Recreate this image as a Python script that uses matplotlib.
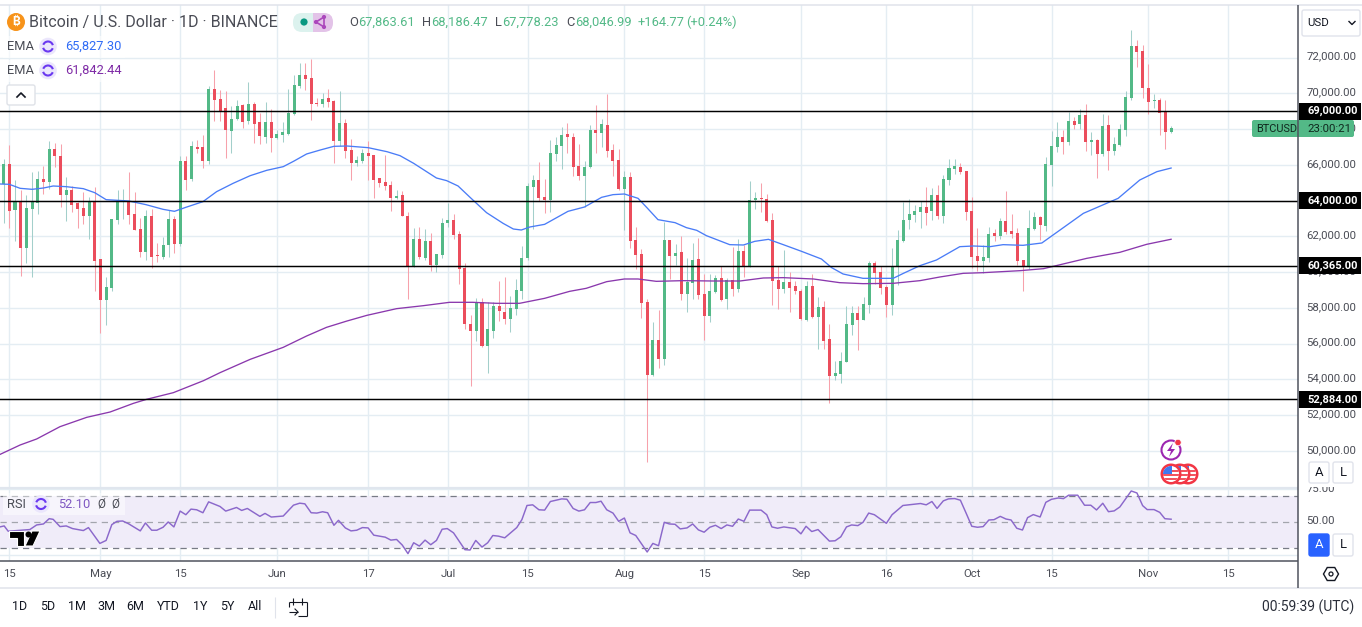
# Bitcoin daily candles with two EMAs, key levels and an RSI pane
import numpy as np
import matplotlib
matplotlib.use("Agg")
import matplotlib.pyplot as plt
from matplotlib.patches import Rectangle, Circle, FancyBboxPatch, Arc, Polygon, RegularPolygon
from matplotlib.transforms import ScaledTranslation

plt.rcParams['font.family'] = ['Roboto', 'DejaVu Sans']

# candles, first one is Apr 14, one per day
opens = [
    64934, 66053, 63479, 63946, 61353, 63535, 63890, 65214, 65046, 66892,
    66501, 64319, 64598, 63890, 63573, 63144, 63927, 60738, 58444, 59115,
    62920, 63983, 63983, 63256, 62416, 61130, 63144, 60962, 60850, 61521,
    62976, 61577, 66221, 65214, 67004, 67004, 66221, 70249, 69690, 69186,
    67900, 68571, 69354, 68459, 69410, 68403, 67564, 68403, 67508, 67676,
    67732, 68851, 70417, 71033, 70865, 69466, 69410, 69746, 69578, 67340,
    68347, 66836, 66109, 66221, 66669, 66557, 65270, 65046, 64878, 64151,
    64319, 63144, 60346, 61857, 60794, 61745, 60402, 60962, 62752, 62920,
    62137, 60234, 57101, 56710, 58332, 55870, 56710, 58108, 57773, 57381,
    57940, 58948, 60794, 64766, 65158, 64207, 64020, 66613, 67060, 67732,
    67564, 65941, 65382, 65885, 67955, 67788, 68235, 66836, 66277, 64654,
    65326, 61801, 61018, 58332, 54248, 56206, 55143, 61801, 60906, 61130,
    58780, 59395, 60738, 58780, 57549, 58892, 59675, 58500, 59563, 59059,
    61186, 60365, 64020, 64151, 64095, 62920, 59563, 59059, 59451, 59227,
    58948, 57325, 59227, 57493, 58052, 56262, 54192, 54304, 54975, 57045,
    57717, 57325, 58164, 60514, 60011, 59171, 58164, 60346, 61745, 62920,
    63200, 63368, 63647, 63424, 64319, 63144, 65158, 65773, 65885, 65662,
    63424, 60906, 60626, 60794, 62193, 62025, 62864, 62305, 62193, 60682,
    60290, 62416, 63088, 62584, 65997, 67004, 67564, 67284, 68459, 68291,
    68795, 67284, 67396, 66613, 68235, 66781, 67116, 67955, 69746, 72655,
    72376, 70305, 69578, 69634, 68963, 67863.61,
]
highs = [
    66314, 67116, 65158, 64598, 64319, 65606, 65662, 65941, 67340, 67247,
    67172, 65326, 64822, 63927, 64505, 64225, 64766, 60738, 59731, 62976,
    64598, 64654, 65606, 64487, 63032, 63479, 63535, 61633, 61969, 63479,
    63144, 66501, 66501, 67340, 67396, 67676, 70417, 71312, 70193, 70138,
    69298, 69634, 69410, 70641, 69522, 68888, 69522, 69130, 67955, 68403,
    70249, 71033, 71704, 71704, 71928, 69746, 70026, 70249, 69634, 70138,
    68571, 67452, 66501, 66892, 67340, 66557, 65270, 66557, 65102, 64598,
    64543, 63368, 62472, 62528, 62416, 62193, 61018, 63032, 63871, 63256,
    62305, 60514, 57605, 58556, 58556, 58332, 58332, 59507, 59731, 58668,
    59619, 61465, 64990, 65438, 66165, 65214, 67396, 67564, 68123, 68347,
    67788, 67172, 66221, 68235, 69354, 68571, 69970, 67172, 66892, 65662,
    65606, 62528, 61297, 58500, 57213, 57884, 62808, 61801, 61577, 62025,
    60794, 61633, 61913, 59899, 59899, 59843, 60346, 59675, 61409, 61857,
    61521, 65102, 64487, 64990, 64375, 63312, 60346, 61241, 60011, 59507,
    59059, 59507, 59899, 58612, 58388, 57101, 55031, 55535, 58108, 58108,
    58108, 58612, 60626, 60626, 60346, 59283, 61353, 62360, 63927, 64095,
    63759, 63983, 64766, 64710, 64878, 65438, 66333, 66333, 66109, 65662,
    64207, 62472, 61521, 62528, 62416, 63032, 64543, 63256, 62472, 60682,
    63479, 63368, 63144, 66445, 67900, 68403, 67955, 68963, 68683, 69130,
    69410, 67844, 67452, 68851, 68795, 67564, 68291, 70138, 73550, 72991,
    72711, 71648, 69970, 69746, 69634, 68186.47,
]
lows = [
    62733, 62454, 61764, 59787, 60495, 59749, 63274, 64375, 64636, 65904,
    63666, 62864, 63368, 62472, 62696, 61857, 58948, 56616, 57045, 58948,
    62696, 62976, 62696, 62360, 60850, 60682, 60234, 60570, 60738, 60850,
    61074, 61465, 64598, 65102, 66669, 65829, 66053, 68459, 68459, 66389,
    66669, 68500, 68067, 68291, 67228, 67172, 67228, 66725, 67471, 67284,
    67676, 68795, 70305, 70193, 68515, 69298, 69242, 69242, 66109, 67060,
    66389, 65158, 65941, 66109, 65158, 64151, 64766, 64598, 63424, 64095,
    63144, 58500, 60290, 60738, 60682, 60067, 60011, 60775, 62528, 61876,
    59339, 56821, 53632, 56150, 55814, 54360, 56318, 57269, 57101, 56654,
    57605, 58500, 60682, 62416, 63983, 63312, 63368, 66221, 65773, 66669,
    65382, 65158, 63647, 65829, 66669, 67004, 66445, 65382, 64598, 62360,
    61353, 60178, 57437, 49380, 54200, 54639, 54807, 59619, 60402, 58444,
    57773, 58500, 58500, 56206, 57213, 58850, 58400, 57940, 58668, 58892,
    59731, 60300, 63535, 63368, 62800, 58164, 57940, 58836, 57773, 58780,
    57325, 57269, 57450, 55702, 55702, 52681, 53968, 53800, 54950, 56486,
    55646, 57300, 57717, 59339, 58780, 57511, 57605, 59283, 61700, 62416,
    62808, 62472, 62640, 62920, 62976, 62752, 64878, 65494, 65494, 62920,
    60234, 60067, 59955, 60570, 61745, 61857, 62137, 61913, 60402, 58948,
    60178, 62360, 61801, 62305, 64822, 66725, 66613, 67116, 68011, 68011,
    66781, 66557, 65270, 66501, 65717, 66557, 67060, 67620, 69634, 71480,
    69746, 68851, 69186, 67676, 66892, 67778.23,
]
closes = [
    66053, 63442, 63946, 61353, 63573, 63946, 65214, 65046, 66892, 66501,
    64319, 64598, 63759, 63535, 63144, 63927, 60626, 58444, 59171, 62976,
    63983, 64039, 63200, 62360, 61130, 63144, 60850, 60906, 61521, 62976,
    61577, 66221, 65158, 67060, 66892, 66221, 70249, 69634, 68963, 67955,
    68571, 69298, 68403, 69410, 68291, 67620, 68403, 67508, 67732, 67844,
    68907, 70473, 71033, 70809, 69410, 69410, 69690, 69522, 67340, 68347,
    66781, 66109, 66277, 66669, 66501, 65158, 64990, 64822, 64151, 64263,
    63144, 60346, 61857, 60850, 61745, 60402, 61018, 62752, 62920, 62081,
    60178, 57101, 56710, 58332, 55870, 56821, 58108, 57829, 57381, 57996,
    59003, 60794, 64822, 65158, 64151, 64020, 66669, 67116, 67676, 67564,
    65885, 65382, 65885, 67955, 67788, 68291, 66781, 66221, 64654, 65326,
    61745, 60962, 58276, 54248, 56206, 55143, 61801, 60906, 61074, 58780,
    59451, 60682, 58724, 57549, 58948, 59675, 58444, 59563, 59059, 61186,
    60365, 64020, 64151, 64095, 62864, 59507, 59059, 59451, 59115, 58948,
    57381, 59227, 57493, 58052, 56150, 54192, 54360, 55031, 57101, 57717,
    57325, 58220, 60514, 59955, 59115, 58164, 60346, 61801, 62920, 63256,
    63424, 63647, 63312, 64319, 63144, 65214, 65829, 65941, 65606, 63368,
    60850, 60626, 60850, 62137, 62025, 62864, 62249, 62137, 60626, 60290,
    62472, 63088, 62640, 66053, 67060, 67564, 67284, 68459, 68235, 68795,
    67284, 67396, 66613, 68179, 66781, 67172, 68011, 69802, 72655, 72320,
    70305, 69522, 69634, 68907, 67844, 68046.99,
]

# EMA readings, day numbers count from Apr 15
ema_fast_days = [-1.6, 0, 1.9, 4, 6, 7.7, 10, 13, 15, 17, 21, 24, 27, 29, 31, 34, 36.4, 39.3, 42.3, 45.2,
                 48.1, 49.9, 52.2, 54.6, 57, 59.3, 63, 66.3, 68.6, 71, 74, 75, 76.8, 78.8, 80.9, 83.8,
                 86.7, 88.5, 89.9, 91.4, 94, 98.1, 101, 104, 106, 108, 110.4, 111.9, 113.9, 116.9, 118.9,
                 120.7, 122.4, 126.5, 128.9, 130.9, 133.3, 135.9, 139.1, 142.6, 144.4, 146.4, 149.9,
                 151.7, 155.2, 157, 159.9, 162.8, 166.9, 169.3, 172.2, 174.5, 178, 181.3, 184.5, 188.6,
                 194.7, 198.5, 201.5, 204]
ema_fast = [64934, 64916, 64692, 64636, 64710, 64822, 64785, 64673, 64449, 64058, 63983, 63778, 63517, 63405,
            63629, 63946, 64505, 64972, 65400, 65699, 65904, 66202, 66613, 66836, 67042, 67060, 66967, 66743,
            66520, 66090, 65475, 65270, 65121, 64822, 64188, 63330, 62733, 62416, 62360, 62528, 62677, 63405,
            63647, 64188, 64338, 64375, 64132, 63629, 62939, 62771, 62491, 62342, 62044, 61540, 61521, 61726,
            61838, 61540, 61167, 60738, 60253, 59899, 59656, 59656, 59656, 59936, 60365, 60682, 61428, 61465,
            61428, 61540, 61503, 61633, 62360, 63293, 64132, 65158, 65624, 65827.30]
ema_slow_days = [-1.6, 1.9, 4.8, 8.9, 13.6, 17.7, 21.8, 24.1, 28.8, 34.1, 37, 42.3, 48.1, 52.2, 55.7, 59.3,
                 62.8, 68, 72.7, 77.3, 81.4, 85.5, 89.6, 94, 98.4, 101.3, 104.9, 108, 110.4, 113.6, 118.3,
                 123.6, 128.3, 132.4, 135.9, 141.2, 145.8, 149.9, 155.2, 159.9, 163.4, 167.5, 171, 177.5,
                 181.6, 189.2, 195, 199.7, 204]
ema_slow = [49809, 50331, 50667, 51356, 51879, 52177, 52662, 52886, 53259, 53930, 54378, 55124, 55795, 56429,
            56914, 57269, 57586, 57959, 58126, 58314, 58314, 58258, 58258, 58537, 58929, 59097, 59470, 59619,
            59619, 59488, 59526, 59507, 59507, 59675, 59694, 59619, 59414, 59358, 59377, 59526, 59731, 59936,
            59973, 60085, 60197, 60775, 61111, 61558, 61842.44]

rsi_days = [-1.6, -0.9, -0.2, 3.6, 4.8, 6, 7, 7.7, 8.9, 10, 11.1, 13, 13.9, 15.9, 17, 18, 18.9, 19.9, 20.9, 23,
            23.9, 25, 25.9, 27, 27.9, 28.9, 30, 31, 31.9, 32.9, 34, 35, 37, 38, 39.9, 40.8, 41.8, 44, 44.9, 46,
            48.1, 49.9, 51, 51.9, 53, 54, 55, 55.9, 57, 57.8, 59, 60, 61, 62, 63, 64, 66, 67, 68, 69, 70, 71, 72,
            73, 74, 75, 76, 76.9, 78, 80, 80.9, 81.9, 83, 84, 84.9, 85.9, 87, 89.1, 90, 90.9, 91.9, 93, 94, 95,
            97, 97.9, 99, 100, 101, 102, 103, 103.9, 104.9, 106, 107, 108, 109, 110, 112, 113, 114, 115, 115.9,
            116.9, 117.8, 119, 120, 121, 122, 123, 124, 125, 126, 127, 128, 129, 130, 132, 133, 133.9, 134.9,
            136, 138, 139, 139.9, 140.9, 142, 144, 145, 146, 147, 147.9, 149, 149.9, 150.9, 151.9, 154, 155,
            156.9, 160, 161, 162, 162.9, 164, 164.9, 166, 167, 168, 169, 170, 171, 172, 172.9, 174, 175, 175.9,
            176.9, 177.9, 178.8, 179.8, 181, 182, 183, 184.2, 185.1, 186, 187.6, 188.8, 189.9, 190.9, 192, 193,
            194, 195, 197, 198, 199, 199.8, 201, 202, 202.9, 204]
rsi_vals = [46.3, 47, 43, 44.25, 47.75, 48.5, 52.5, 52, 46.5, 47, 45, 43.5, 45.75, 33.75, 36, 48, 50.5, 50.75,
            48.75, 43.25, 49.25, 43.75, 43.75, 46, 50, 46.25, 58.25, 55.5, 59.75, 59.25, 57, 65.25, 61.75, 58.25,
            61, 58.75, 60.25, 54.25, 56.5, 53.75, 54.5, 62.75, 64.25, 63.75, 57, 56.75, 57.75, 57, 47.5, 51.25,
            45.5, 43.25, 43.75, 45.75, 45.5, 40, 38.5, 36.25, 36.75, 32.5, 26, 34.25, 31.75, 36.25, 32.75, 36,
            44.5, 45, 41.75, 29, 28.75, 36, 31, 34.25, 39.75, 39.25, 38, 45.75, 51.75, 62.5, 63, 59.25, 59, 65.5,
            67.5, 67.25, 60.25, 58.25, 59.25, 64.75, 64.75, 65.75, 59.25, 56.75, 50.5, 53, 41.75, 39.75, 27.25,
            33.75, 32, 49.75, 48.5, 48.25, 44.75, 45.5, 48.5, 44, 42.25, 46, 47.5, 45, 47.75, 46.75, 52.25, 50.5,
            59, 59, 55.5, 46.25, 45.25, 46.25, 45, 41, 46.75, 42.75, 44.25, 35.5, 35.75, 38.75, 46.25, 47.75,
            47.25, 49.75, 56.75, 55.5, 49, 55.5, 62.5, 64, 63, 65.5, 60.25, 66, 67.5, 67.75, 66.5, 56.75, 46.75,
            46, 46.5, 51.5, 51.75, 54.25, 52.25, 51.5, 45.25, 43.9, 53.3, 55.6, 53.8, 64.9, 67.2, 68.2, 67.7,
            70.3, 70.3, 62.7, 62.7, 59.1, 64.2, 57.8, 58.4, 61.4, 73.5, 72, 62.4, 59.4, 59.4, 57.3, 52.5, 52.1]

levels = [69000, 64000, 60365, 52884]
price_ticks = [50000, 52000, 54000, 56000, 58000, 60000, 62000, 64000, 66000, 68000, 70000, 72000]
date_ticks = [0, 16, 30, 47, 63, 77, 91, 108, 122, 139, 154, 169, 183, 200, 214]
date_labels = ['15', 'May', '15', 'Jun', '17', 'Jul', '15', 'Aug', '15', 'Sep', '16', 'Oct', '15', 'Nov', '15']
rsi_ticks = [25, 50, 75]
rsi_tick_labels = ['', '50.00', '75.00']
range_labels = ['1D', '5D', '1M', '3M', '6M', 'YTD', '1Y', '5Y', 'All']

UP = '#53b987'
DOWN = '#eb4d5c'
UP_WICK = '#a3cfcb'
DOWN_WICK = '#f7a1ab'
GRID = '#e4edf3'
TEXT = '#4a4c55'
W, H = 1362, 627
BTC_FONTS = ['Inter', 'Noto Sans', 'Open Sans', 'Lato', 'Liberation Sans', 'Roboto', 'DejaVu Sans']


def pane(top, bottom):
    return fig.add_axes([0, 1 - bottom / H, 1298 / W, (bottom - top) / H])


def nudge_up(axes, pixels):
    # tick labels sit a little above their gridline
    shift = ScaledTranslation(0, pixels / 100, fig.dpi_scale_trans)
    for t in axes.get_yticklabels():
        t.set_transform(t.get_transform() + shift)


fig = plt.figure(figsize=(W / 100, H / 100), dpi=100)
ax = pane(5, 488)
ax_rsi = pane(489, 560.5)

# main pane
days = np.arange(len(opens)) - 1
o, h, l, c = map(np.array, (opens, highs, lows, closes))
is_up = c >= o
ax.vlines(days[is_up], l[is_up], h[is_up], color=UP_WICK, lw=0.75, zorder=2)
ax.vlines(days[~is_up], l[~is_up], h[~is_up], color=DOWN_WICK, lw=0.75, zorder=2)
body = np.maximum(np.abs(c - o), 50)
ax.bar(days, body, bottom=np.minimum(o, c), width=0.53, lw=0,
       color=[UP if u else DOWN for u in is_up], zorder=3)
ax.plot(ema_fast_days, ema_fast, color='#4a7cf7', lw=0.95, zorder=4)
ax.plot(ema_slow_days, ema_slow, color='#8a38ad', lw=0.95, zorder=4)
for lev in levels:
    ax.axhline(lev, color='black', lw=1.05, zorder=5)

ax.set_xlim(-1.633, 226.28)
ax.set_ylim(47925, 74949)
ax.set_yticks(price_ticks)
ax.set_yticklabels(['{:,.2f}'.format(p) for p in price_ticks])
ax.set_xticks(date_ticks)
ax.tick_params(axis='x', length=0, labelbottom=False)
ax.yaxis.tick_right()
ax.tick_params(axis='y', length=0, pad=6.0, labelsize=8.2, labelcolor=TEXT)
nudge_up(ax, 2)
ax.grid(True, color=GRID, lw=1.0, zorder=0)
ax.set_axisbelow(True)
for s in ax.spines.values():
    s.set_visible(False)

# level tags on the price scale
tag_trans = ax.get_yaxis_transform()
for lev in levels:
    ax.add_patch(Rectangle((1 + 1 / 1298, lev - 476), 62 / 1298, 952, transform=tag_trans, fc='black', lw=0,
                           clip_on=False, zorder=6))
    ax.text(1 + 9 / 1298, lev, '{:,.2f}'.format(lev), transform=tag_trans, color='white',
            fontsize=8.0, fontweight='bold', va='center', ha='left', clip_on=False, zorder=7)

# rsi pane
ax_rsi.axhspan(30, 70, color='#f0ecf9', lw=0, zorder=1)
for lev, col in ((70, '#787b86'), (50, '#a3a5ad'), (30, '#787b86')):
    ax_rsi.axhline(lev, color=col, lw=0.9, dashes=(5, 4), zorder=2)
ax_rsi.plot(rsi_days, rsi_vals, color='#8b68cb', lw=1.05, zorder=3)
ax_rsi.set_xlim(-1.633, 226.28)
ax_rsi.set_ylim(20.8, 74.75)
ax_rsi.set_xticks(date_ticks)
ax_rsi.set_xticklabels(date_labels)
ax_rsi.set_yticks(rsi_ticks)
ax_rsi.set_yticklabels(rsi_tick_labels)
ax_rsi.yaxis.tick_right()
ax_rsi.tick_params(axis='y', length=0, pad=6.0, labelsize=8.2, labelcolor=TEXT)
ax_rsi.tick_params(axis='x', length=0, pad=6, labelsize=8.2, labelcolor=TEXT)
nudge_up(ax_rsi, 1.5)
ax_rsi.grid(True, color=GRID, lw=1.0, zorder=0)
ax_rsi.set_axisbelow(True)
for s in ax_rsi.spines.values():
    s.set_visible(False)

# everything around the panes, in pixels
ui = fig.add_axes([0, 0, 1, 1], zorder=10)
ui.set_xlim(0, W)
ui.set_ylim(H, 0)
ui.axis('off')
ui.patch.set_alpha(0)


def label(x, y, s, color=TEXT, size=8.2, ha='left', **kw):
    ui.text(x, y, s, color=color, fontsize=size, ha=ha, va='center', **kw)


def hline(x0, x1, y, color, lw=1.0):
    ui.plot([x0, x1], [y, y], color=color, lw=lw, solid_capstyle='butt')


def vline(x, y0, y1, color, lw=1.0):
    ui.plot([x, x], [y0, y1], color=color, lw=lw, solid_capstyle='butt')


def cycle_icon(x, y):
    ui.add_patch(Circle((x, y), 8.8, fc='#ebe6fc', lw=0))
    ui.add_patch(Arc((x, y), 10, 10, theta1=20, theta2=165, color='#6a38f0', lw=1.5))
    ui.add_patch(Arc((x, y), 10, 10, theta1=200, theta2=345, color='#6a38f0', lw=1.5))


def button(x, y, w, h, s, fill='white', color='#131722', edge='#e0e3eb'):
    ui.add_patch(FancyBboxPatch((x + 2, y + 2), w - 4, h - 4, boxstyle='round,pad=2', fc=fill, ec=edge, lw=1))
    label(x + w / 2, y + h / 2, s, color=color, size=9.4, ha='center')


# frame
hline(0, W, 5, '#e0e3eb', 1.1)
hline(0, 1298, 488.4, '#e0e6ee', 1.6)
hline(0, 1298, 560.7, '#50535e', 1.1)
hline(0, W, 588, '#e0e3eb', 1.1)
vline(1298, 5, 588, '#50535e', 1.1)
ui.add_patch(Rectangle((1299.5, 477), 62, 10, fc='white', lw=0))

# header
ui.add_patch(Circle((16, 22), 9, fc='#f7931a', lw=0))
label(16, 22, '₿', color='white', size=8.5, ha='center', fontweight='bold', family=BTC_FONTS)
label(29, 22.5, 'Bitcoin / U.S. Dollar · 1D · BINANCE', size=11.5)
ui.add_patch(FancyBboxPatch((293, 13), 20, 19, boxstyle='round,pad=0,rounding_size=9', fc='#dcf2ee', lw=0))
ui.add_patch(FancyBboxPatch((313, 13), 20, 19, boxstyle='round,pad=0,rounding_size=9', fc='#e3c3e8', lw=0))
ui.add_patch(Rectangle((305, 13), 8, 19, fc='#dcf2ee', lw=0))
ui.add_patch(Rectangle((313, 13), 8, 19, fc='#e3c3e8', lw=0))
ui.add_patch(Circle((304, 22), 3.6, fc='#089981', lw=0))
ui.add_patch(Polygon([(316, 22), (324, 17), (324, 27)], closed=True, fc='none', ec='#ab47bc', lw=1.2))
for px, py in ((316, 22), (324, 17), (324, 27)):
    ui.add_patch(Circle((px, py), 2.1, fc='#ab47bc', lw=0))

for x, s in ((349, 'O'), (422, 'H'), (495, 'L'), (566, 'C')):
    label(x, 22.5, s, size=9.3)
for x, s in ((358, '67,863.61'), (431, '68,186.47'), (502, '67,778.23'), (575, '68,046.99'),
             (638, '+164.77'), (686, '(+0.24%)')):
    label(x, 22.5, s, color=UP, size=9.3)

# indicator legend
for y, value, col in ((46.5, '65,827.30', '#2f6bf6'), (70.5, '61,842.44', '#7f2ba6')):
    ui.add_patch(Rectangle((3, y - 11), 122, 22, fc='white', alpha=0.6, lw=0))
    label(7, y, 'EMA', size=9.3)
    cycle_icon(48, y)
    label(65, y, value, color=col, size=9.3)
ui.add_patch(FancyBboxPatch((9, 87), 24, 16, boxstyle='round,pad=2', fc='white', ec='#dfe2e8', lw=1))
ui.plot([17, 21, 25], [97, 93, 97], color='#131722', lw=1.2)

ui.add_patch(Rectangle((3, 493), 122, 22, fc='white', alpha=0.5, lw=0))
label(7, 504, 'RSI', size=9.3)
cycle_icon(41, 504)
label(58, 504, '52.10', color='#7e57c2', size=9.3)
label(97, 504, 'Ø', color=TEXT, size=8.5)
label(111, 504, 'Ø', color=TEXT, size=8.5)

# tradingview logo
logo_t = Polygon([(9, 531), (24, 531), (24, 546), (17, 546), (17, 538), (9, 538)], closed=True, fc='black',
                 ec='white', lw=0.8)
logo_s = Polygon([(32, 531), (40, 531), (33, 546), (25, 546)], closed=True, fc='black', ec='white', lw=0.8)
ui.add_patch(logo_t)
ui.add_patch(logo_s)
ui.add_patch(Circle((28.5, 534.5), 3, fc='black', lw=0))

# price tags and axis controls
ui.add_patch(FancyBboxPatch((1252, 120), 102, 17, boxstyle='round,pad=0,rounding_size=2', fc=UP, lw=0))
label(1256, 128.7, 'BTCUSD', color='#10281e', size=7.9)
label(1307, 128.7, '23:00:21', color='#10281e', size=8.2)
ui.add_patch(FancyBboxPatch((1304, 12), 54, 22, boxstyle='round,pad=2', fc='white', ec='#e0e3eb', lw=1))
label(1307, 23, 'USD', color='#131722', size=8.2)
ui.plot([1349, 1352, 1355], [21.5, 24.5, 21.5], color='#131722', lw=1)
button(1309, 462, 20, 21, 'A')
button(1333, 462, 20, 21, 'L')
button(1309, 534, 20, 22, 'A', fill='#2962ff', color='white', edge='#2962ff')
button(1333, 534, 20, 22, 'L')
ui.add_patch(RegularPolygon((1331, 574), 6, radius=7.5, orientation=np.pi / 6, fc='white', ec='#131722', lw=1))
ui.add_patch(Circle((1331, 574), 2, fc='white', ec='#131722', lw=0.9))

# event markers
ui.add_patch(Circle((1171, 450), 9.5, fc='white', ec='#9c27b0', lw=1.5))
ui.add_patch(Polygon([(1173, 443), (1167, 451), (1171, 451), (1169, 457), (1175, 449), (1171, 449)], closed=True,
                     fc='#9c27b0', lw=0))
ui.add_patch(Circle((1178, 442.5), 3.2, fc='#f23645', ec='white', lw=0.5))
for x in (1188, 1180, 1171):
    ui.add_patch(Circle((x, 474), 10.5, fc='#f23645', lw=0))
    ui.add_patch(Circle((x, 474), 8, fc='white', lw=0))
    for y in (469.5, 473.5, 477.5):
        stripe = Rectangle((x - 8, y), 16, 2.6, fc='#f2545f', lw=0)
        ui.add_patch(stripe)
        stripe.set_clip_path(Circle((x, 474), 8, transform=ui.transData))
    canton = Rectangle((x - 8, 466), 8.5, 8, fc='#3f78ef', lw=0)
    ui.add_patch(canton)
    canton.set_clip_path(Circle((x, 474), 8, transform=ui.transData))

# bottom bar
for x, s in zip((20, 48, 77, 106, 135, 168, 200, 227, 255), range_labels):
    label(x, 607, s, color='#131722', size=9.0, ha='center')
vline(275, 597, 618, '#e0e3eb', 0.8)
cal = '#131722'
hline(289, 307, 602, cal, 0.8)
vline(293, 598, 605, cal, 0.8)
vline(302, 598, 605, cal, 0.8)
vline(289, 602, 607, cal, 0.8)
vline(307, 602, 616, cal, 0.8)
hline(298, 307, 616, cal, 0.8)
hline(289, 298, 612, cal, 0.8)
ui.plot([295, 298, 295], [609, 612, 615], color=cal, lw=0.8)
label(1354, 607, '00:59:39 (UTC)', color='#2a2e39', size=10.0, ha='right')

plt.savefig('out.png', dpi=100)
plt.close()
